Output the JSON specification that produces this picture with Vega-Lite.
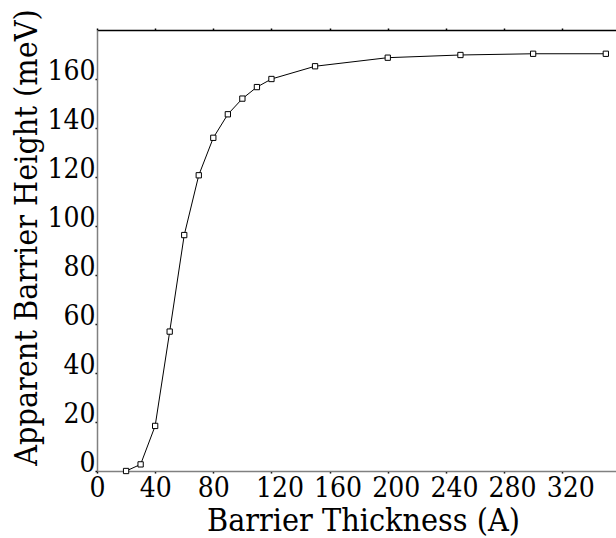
{
  "$schema": "https://vega.github.io/schema/vega-lite/v6.json",
  "width": 519,
  "height": 441,
  "autosize": "none",
  "padding": {"left": 97, "top": 30, "right": 0, "bottom": 67},
  "background": "white",
  "config": {
    "view": {"stroke": null},
    "font": "DejaVu Serif Condensed"
  },
  "data": {
    "values": [
      {"thickness": 20, "height": 0},
      {"thickness": 30, "height": 2.7},
      {"thickness": 40, "height": 18.4},
      {"thickness": 50, "height": 56.9},
      {"thickness": 60, "height": 96.3},
      {"thickness": 70, "height": 120.7},
      {"thickness": 80, "height": 136},
      {"thickness": 90, "height": 145.6},
      {"thickness": 100, "height": 152},
      {"thickness": 110, "height": 156.7},
      {"thickness": 120, "height": 160},
      {"thickness": 150, "height": 165.2},
      {"thickness": 200, "height": 168.7},
      {"thickness": 250, "height": 169.8},
      {"thickness": 300, "height": 170.3},
      {"thickness": 350, "height": 170.3}
    ]
  },
  "resolve": {"axis": {"x": "independent"}},
  "layer": [
    {
      "mark": {"type": "line", "color": "black", "strokeWidth": 1},
      "encoding": {
        "x": {
          "field": "thickness", "type": "quantitative",
          "scale": {"domain": [0, 357], "nice": false},
          "axis": {
            "orient": "bottom",
            "values": [0, 40, 80, 120, 160, 200, 240, 280, 320],
            "title": "Barrier Thickness (A)",
            "titleFont": "DejaVu Serif Condensed", "titleFontSize": 32, "titleFontWeight": "normal", "titleColor": "black",
            "titleX": 266, "titleY": 59, "titleBaseline": "alphabetic", "titleAlign": "center",
            "labelFont": "DejaVu Serif Condensed", "labelFontSize": 28, "labelColor": "black",
            "labelBaseline": "top", "labelPadding": 1, "labelFlush": false, "labelOverlap": false,
            "labelOffset": {"expr": "datum.value >= 100 ? 8 : 0"},
            "tickSize": 2, "tickColor": "black", "tickWidth": 1.5,
            "domainColor": "#808080", "domainWidth": 1.5,
            "grid": false,
            "encode": {"ticks": {"update": {"y": {"value": -2.5}, "y2": {"value": 2.5}}}}
          }
        },
        "y": {
          "field": "height", "type": "quantitative",
          "scale": {"domain": [0, 180], "nice": false},
          "axis": {
            "values": [0, 20, 40, 60, 80, 100, 120, 140, 160],
            "title": "Apparent Barrier Height (meV)",
            "titleFont": "DejaVu Serif Condensed", "titleFontSize": 32, "titleFontWeight": "normal", "titleColor": "black",
            "titleAngle": -90, "titleX": -61, "titleY": 207, "titleBaseline": "alphabetic", "titleAlign": "center",
            "labelFont": "DejaVu Serif Condensed", "labelFontSize": 28, "labelColor": "black",
            "labelBaseline": "alphabetic", "labelPadding": 0, "labelFlush": false, "labelOverlap": false,
            "tickSize": 2, "tickColor": "black", "tickWidth": 1.5,
            "domainColor": "#808080", "domainWidth": 1.5,
            "grid": false,
            "encode": {"ticks": {"update": {"x": {"value": 2.5}, "x2": {"value": -2.5}}}}
          }
        }
      }
    },
    {
      "mark": {"type": "point", "shape": "square", "filled": false, "fill": "white", "stroke": "black", "strokeWidth": 1, "size": 28, "opacity": 1},
      "encoding": {
        "x": {"field": "thickness", "type": "quantitative", "axis": null},
        "y": {"field": "height", "type": "quantitative"}
      }
    },
    {
      "mark": {"type": "point", "opacity": 0},
      "encoding": {
        "x": {
          "field": "thickness", "type": "quantitative",
          "axis": {
            "orient": "top",
            "values": [0, 40, 80, 120, 160, 200, 240, 280, 320],
            "title": null, "labels": false,
            "tickSize": 2, "tickColor": "black", "tickWidth": 1.5,
            "domainColor": "black", "domainWidth": 1.5,
            "grid": false,
            "encode": {"ticks": {"update": {"y": {"value": 2.5}, "y2": {"value": -2.5}}}}
          }
        },
        "y": {"field": "height", "type": "quantitative"}
      }
    }
  ]
}
